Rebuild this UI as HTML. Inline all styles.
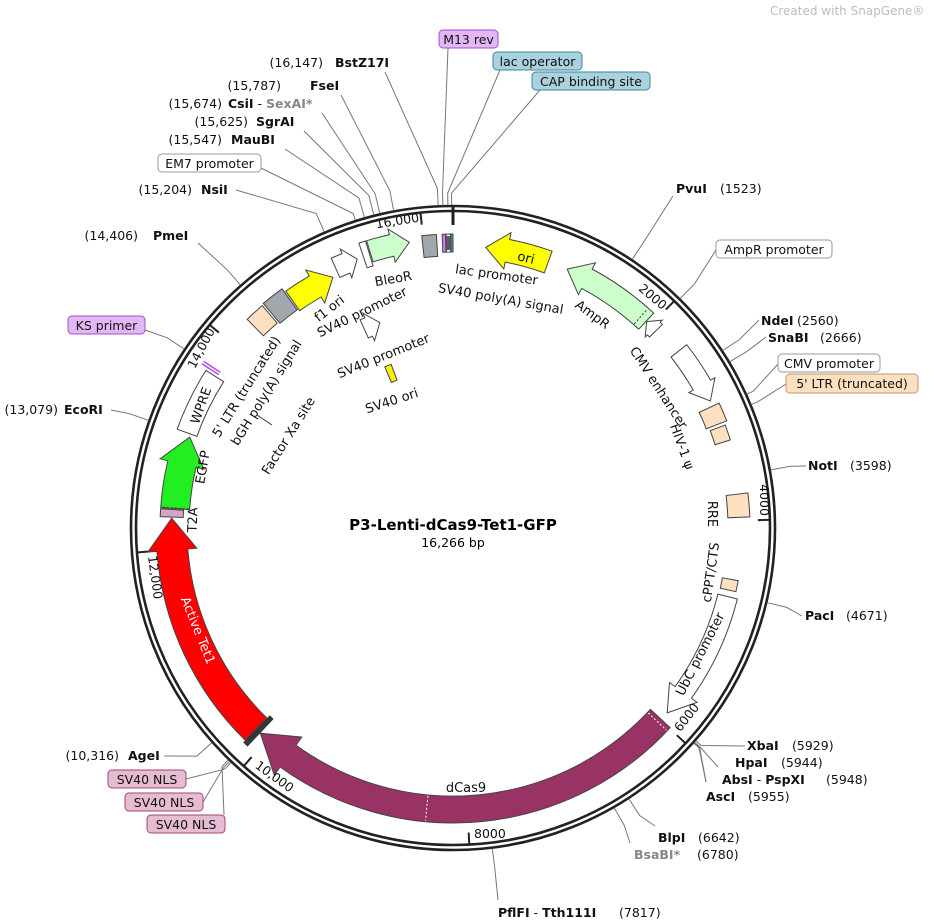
<!DOCTYPE html>
<html><head><meta charset="utf-8"><style>
html,body{margin:0;padding:0;background:#fff;}
svg{display:block;font-family:"DejaVu Sans","Liberation Sans",sans-serif;}
.e{font-size:12.5px;}
.b{font-weight:bold;}
</style></head><body>
<svg id="s" width="940" height="921" viewBox="0 0 940 921" xmlns="http://www.w3.org/2000/svg">
<text x="770" y="15" font-size="12" fill="#b8bec6">Created with SnapGene®</text>
<circle cx="453" cy="528" r="322" fill="none" stroke="#222" stroke-width="2.6"/>
<circle cx="453" cy="528" r="317" fill="none" stroke="#222" stroke-width="2.6"/>
<g id="lines" stroke="#777" stroke-width="1" fill="none"></g>
<g id="shapes" stroke="#444" stroke-width="1"></g>

<g font-size="12.5" fill="#111">
<text transform="translate(398,225) rotate(-9)" text-anchor="middle">16,000</text>
<text transform="translate(650,300) rotate(40)" text-anchor="middle">2000</text>
<text transform="translate(760,500) rotate(90)" text-anchor="middle">4000</text>
<text transform="translate(690,720) rotate(-52)" text-anchor="middle">6000</text>
<text x="474" y="838">8000</text>
<text transform="translate(272,780) rotate(36)" text-anchor="middle">10,000</text>
<text transform="translate(151,578) rotate(82)" text-anchor="middle">12,000</text>
<text transform="translate(205,350) rotate(-62)" text-anchor="middle">14,000</text>
</g>

<g font-size="13" fill="#111">
<text transform="translate(394,283) rotate(-10)" text-anchor="middle">BleoR</text>
<text transform="translate(496,279) rotate(8)" text-anchor="middle">lac promoter</text>
<text transform="translate(500,303) rotate(10)" text-anchor="middle">SV40 poly(A) signal</text>
<text transform="translate(332,312) rotate(-38)" text-anchor="middle">f1 ori</text>
<text transform="translate(364,316) rotate(-26)" text-anchor="middle">SV40 promoter</text>
<text transform="translate(385,360) rotate(-22)" text-anchor="middle">SV40 promoter</text>
<text transform="translate(393,405) rotate(-18)" text-anchor="middle">SV40 ori</text>
<text transform="translate(525,262) rotate(14)" text-anchor="middle">ori</text>
<text transform="translate(590,318) rotate(36)" text-anchor="middle">AmpR</text>
<text transform="translate(655,390) rotate(57)" text-anchor="middle">CMV enhancer</text>
<text transform="translate(678,448) rotate(70)" text-anchor="middle">HIV-1 ψ</text>
<text transform="translate(708,514) rotate(90)" text-anchor="middle">RRE</text>
<text transform="translate(715,573) rotate(-82)" text-anchor="middle">cPPT/CTS</text>
<text transform="translate(704,656) rotate(-63)" text-anchor="middle">UbC promoter</text>
<text x="466" y="792" text-anchor="middle">dCas9</text>
<text transform="translate(194,632) rotate(68)" text-anchor="middle" fill="#fff">Active Tet1</text>
<text transform="translate(197,520) rotate(-88)" text-anchor="middle">T2A</text>
<text transform="translate(207,468) rotate(-80)" text-anchor="middle">EGFP</text>
<text transform="translate(205,407) rotate(-70)" text-anchor="middle">WPRE</text>
<text transform="translate(250,389) rotate(-58)" text-anchor="middle">5' LTR (truncated)</text>
<text transform="translate(270,395) rotate(-58)" text-anchor="middle">bGH poly(A) signal</text>
<text transform="translate(292,438) rotate(-58)" text-anchor="middle">Factor Xa site</text>
<line x1="257" y1="415" x2="272" y2="425" stroke="#333"/>
</g>

<text x="453" y="530" text-anchor="middle" font-size="15" font-weight="bold">P3-Lenti-dCas9-Tet1-GFP</text>
<text x="453" y="547" text-anchor="middle" font-size="12.5">16,266 bp</text>

<g class="e" fill="#111">
<text x="323" y="67" text-anchor="end">(16,147)</text><text x="335" y="67" class="b">BstZ17I</text>
<text x="281" y="90" text-anchor="end">(15,787)</text><text x="310" y="90" class="b">FseI</text>
<text x="222" y="108" text-anchor="end">(15,674)</text><text x="228" y="108"><tspan class="b">CsiI</tspan> - <tspan class="b" fill="#888">SexAI*</tspan></text>
<text x="248" y="126" text-anchor="end">(15,625)</text><text x="256" y="126" class="b">SgrAI</text>
<text x="222" y="144" text-anchor="end">(15,547)</text><text x="231" y="144" class="b">MauBI</text>
<text x="192" y="194" text-anchor="end">(15,204)</text><text x="201" y="194" class="b">NsiI</text>
<text x="138" y="240" text-anchor="end">(14,406)</text><text x="153" y="240" class="b">PmeI</text>
<text x="58" y="414" text-anchor="end">(13,079)</text><text x="64" y="414" class="b">EcoRI</text>
<text x="119" y="760" text-anchor="end">(10,316)</text><text x="128" y="760" class="b">AgeI</text>
<text x="676" y="193" class="b">PvuI</text><text x="720" y="193">(1523)</text>
<text x="761" y="325" class="b">NdeI</text><text x="797" y="325">(2560)</text>
<text x="768" y="342" class="b">SnaBI</text><text x="820" y="342">(2666)</text>
<text x="808" y="470" class="b">NotI</text><text x="850" y="470">(3598)</text>
<text x="805" y="620" class="b">PacI</text><text x="846" y="620">(4671)</text>
<text x="747" y="750" class="b">XbaI</text><text x="792" y="750">(5929)</text>
<text x="735" y="767" class="b">HpaI</text><text x="781" y="767">(5944)</text>
<text x="722" y="784"><tspan class="b">AbsI</tspan> - <tspan class="b">PspXI</tspan></text><text x="826" y="784">(5948)</text>
<text x="706" y="801" class="b">AscI</text><text x="748" y="801">(5955)</text>
<text x="658" y="842" class="b">BlpI</text><text x="698" y="842">(6642)</text>
<text x="634" y="859" class="b" fill="#888">BsaBI*</text><text x="697" y="859">(6780)</text>
<text x="498" y="917"><tspan class="b">PflFI</tspan> - <tspan class="b">Tth111I</tspan></text><text x="619" y="917">(7817)</text>
</g>

<g font-size="12.5" fill="#111">
<rect x="439" y="30" width="59" height="18" rx="4" fill="#e3b6f5" stroke="#a050c8"/><text x="468.5" y="44" text-anchor="middle">M13 rev</text>
<rect x="493" y="52" width="89" height="18" rx="4" fill="#a9d2de" stroke="#3e8599"/><text x="537.5" y="66" text-anchor="middle">lac operator</text>
<rect x="532" y="72" width="118" height="18" rx="4" fill="#a9d2de" stroke="#3e8599"/><text x="591" y="86" text-anchor="middle">CAP binding site</text>
<rect x="158" y="154" width="103" height="18" rx="4" fill="#fff" stroke="#999"/><text x="209.5" y="168" text-anchor="middle">EM7 promoter</text>
<rect x="68" y="316" width="77" height="18" rx="4" fill="#e3b6f5" stroke="#a050c8"/><text x="106.5" y="330" text-anchor="middle">KS primer</text>
<rect x="716" y="240" width="116" height="18" rx="4" fill="#fff" stroke="#999"/><text x="774" y="254" text-anchor="middle">AmpR promoter</text>
<rect x="778" y="354" width="102" height="18" rx="4" fill="#fff" stroke="#999"/><text x="829" y="368" text-anchor="middle">CMV promoter</text>
<rect x="786" y="374" width="132" height="19" rx="4" fill="#fde0c0" stroke="#c8946a"/><text x="852" y="388" text-anchor="middle">5' LTR (truncated)</text>
<rect x="108" y="770" width="78" height="18" rx="4" fill="#e6bcd2" stroke="#a04474"/><text x="147" y="784" text-anchor="middle">SV40 NLS</text>
<rect x="125" y="793" width="78" height="18" rx="4" fill="#e6bcd2" stroke="#a04474"/><text x="164" y="807" text-anchor="middle">SV40 NLS</text>
<rect x="147" y="815" width="78" height="18" rx="4" fill="#e6bcd2" stroke="#a04474"/><text x="186" y="829" text-anchor="middle">SV40 NLS</text>
</g>
</svg>
<script>
(function(){
const CX=453,CY=528,N=16266,NS="http://www.w3.org/2000/svg";
function P(b,r){const t=b/N*2*Math.PI;return [CX+r*Math.sin(t),CY-r*Math.cos(t)];}
function f(p){return p[0].toFixed(1)+' '+p[1].toFixed(1);}
function A(b1,b2,r){const large=Math.abs(b2-b1)/N>0.5?1:0;const sw=b2>b1?1:0;return 'A'+r+' '+r+' 0 '+large+' '+sw+' '+f(P(b2,r));}
function band(b1,b2,r1,r2){return 'M'+f(P(b1,r2))+A(b1,b2,r2)+'L'+f(P(b2,r1))+A(b2,b1,r1)+'Z';}
function hb(px,r){return px/(2*Math.PI*r)*N;}
function arrow(b1,b2,r1,r2,dir,hpx,e){
 const rm=(r1+r2)/2,h=hb(hpx,rm);
 if(dir>0){const q=b2-h;return 'M'+f(P(b1,r2))+A(b1,q,r2)+'L'+f(P(q,r2+e))+'L'+f(P(b2,rm))+'L'+f(P(q,r1-e))+'L'+f(P(q,r1))+A(q,b1,r1)+'Z';}
 const q=b1+h;return 'M'+f(P(b2,r2))+A(b2,q,r2)+'L'+f(P(q,r2+e))+'L'+f(P(b1,rm))+'L'+f(P(q,r1-e))+'L'+f(P(q,r1))+A(q,b2,r1)+'Z';
}
const g=document.getElementById('shapes'),L=document.getElementById('lines');
function path(d,fill){const p=document.createElementNS(NS,'path');p.setAttribute('d',d);p.setAttribute('fill',fill);g.appendChild(p);}
function seg(b,r1,r2,col,w,dash){const a=P(b,r1),c=P(b,r2);const l=document.createElementNS(NS,'line');l.setAttribute('x1',a[0]);l.setAttribute('y1',a[1]);l.setAttribute('x2',c[0]);l.setAttribute('y2',c[1]);l.setAttribute('stroke',col);l.setAttribute('stroke-width',w);if(dash)l.setAttribute('stroke-dasharray',dash);g.appendChild(l);}
for(let k=2000;k<=16000;k+=2000)seg(k,316,305,'#222',2);
seg(0,323,303,'#222',3);
path(arrow(300,890,271,294,-1,22,7),'#ffff00');
path(arrow(1075,1945,272,294,-1,22,7),'#ccffcc');
seg(1880,273,293,'#333',1,'2,2');
path(arrow(1950,2070,274,292,-1,10,3),'#fff');
path(arrow(2345,2880,277,297,1,18,5),'#fff');
path(band(2930,3100,272,294),'#fde0c0');
path(band(3130,3270,275,291),'#fde0c0');
path(band(3760,3970,275,297),'#fde0c0');
path(band(4540,4640,274,290),'#fde0c0');
path(arrow(4700,5910,273,293,1,26,7),'#fff');
path(arrow(5990,10085,268,295,1,36,10),'#993366');
seg(6030,269,294,'#fff',1,'2,2');
seg(8375,269,294,'#fff',1,'2,2');
for(let b=10092;b<=10135;b+=10)seg(b,262,300,'#333',1.3);
path(arrow(10140,12290,266,297,1,32,9),'#ff0000');
path(band(12300,12370,270,293),'#d4a6c4');
path(arrow(12380,13060,264,293,1,28,8),'#22ee22');
seg(12385,265,292,'#333',1,'2,2');
path(band(13090,13670,272,293),'#fff');
seg(13700,280,300,'#b050e0',1.5);seg(13725,280,300,'#b050e0',1.5);
path(band(14250,14430,270,293),'#fde0c0');
path(band(14450,14660,268,294),'#a2a6ad');
path(arrow(14675,15110,266,290,1,20,7),'#ffff00');
path(arrow(15168,15380,275,296,1,12,5),'#fff');
path(band(15440,15500,274,300),'#fff');
path(arrow(15510,15873,278,300,1,18,6),'#ccffcc');
path(band(15990,16120,272,294),'#a2a6ad');
path(band(16170,16200,276,294),'#cc77ff');
path(band(16205,16245,276,294),'#fff');
for(let b=16210;b<=16240;b+=8)seg(b,278,292,'#555',1);
path(band(16245,16266,276,294),'#3a8ca0');
path(arrow(15180,15380,208,228,1,12,5),'#fff');
path(band(15230,15330,158,175),'#ffee00');
function lead(b,ax,ay,mid){const a=P(b,323),m=P(b,mid||343);const pl=document.createElementNS(NS,'polyline');pl.setAttribute('points',f(a)+' '+f(m)+' '+ax+' '+ay);L.appendChild(pl);}
lead(16147,385,72,340);
lead(15787,341,95);
lead(15674,322,113);
lead(15625,304,131);
lead(15547,285,149);
lead(15470,261,168,330);
lead(15204,236,190);
lead(14406,198,243);
lead(13720,145,330);
lead(13079,111,410);
lead(10316,164,756);
lead(10095,186,779,332);
lead(10110,203,802,332);
lead(10125,224,815,332);
lead(16185,448,48,335);
lead(16225,500,70,335);
lead(16255,540,90,335);
lead(1523,673,196);
lead(2020,716,250);
lead(2560,759,320);
lead(2666,766,337);
lead(2960,778,364,330);
lead(3050,786,384,330);
lead(3598,806,466);
lead(4671,802,616);
lead(5929,745,746,330);
lead(5944,718,767,330);
lead(5948,706,782,330);
lead(5955,706,782,330);
lead(6642,655,826);
lead(6780,630,843);
lead(7817,498,900);
})();
</script>
</body></html>
